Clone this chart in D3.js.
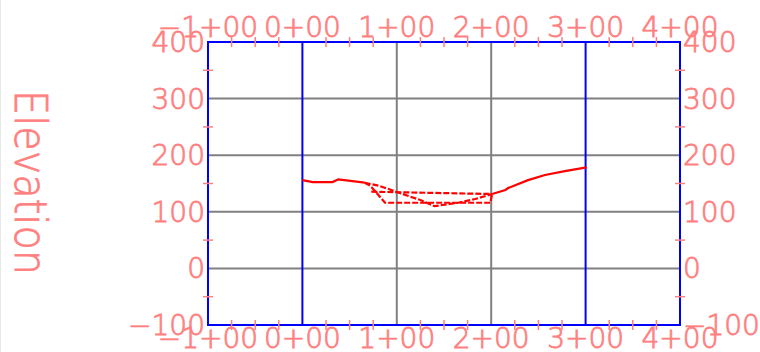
<!DOCTYPE html>
<html>
  <head>
    <meta charset="UTF-8" />
    <script src="https://cdnjs.cloudflare.com/ajax/libs/d3/7.8.5/d3.min.js"></script>
    <style>
      body { margin: 0; background: #fff; }
      text {
        fill: #ff8080;
        stroke: #ff8080;
        stroke-width: 0.8px;
        font-family: "DejaVu Sans", sans-serif;
        font-weight: 200;
      }
    </style>
  </head>
  <body>
    <svg id="chart" width="760" height="352"></svg>
    <script>
      // stations (ft) and elevations
      const stationTicks = [-100, 0, 100, 200, 300, 400];
      const elevTicks = [-100, 0, 100, 200, 300, 400];

      // existing ground, left part (solid)
      const groundLeftSta = [0, 11, 32, 38, 66];
      const groundLeftElev = [156, 152.6, 152.6, 157.4, 151.4];
      // existing ground inside the cut (dashed)
      const groundMidSta = [66, 82, 100, 125, 140, 165, 183, 201];
      const groundMidElev = [151.4, 145.6, 135, 120.8, 110, 116, 122.6, 131.4];
      // existing ground, right part (solid)
      const groundRightSta = [201, 215, 218, 239, 257, 278, 301];
      const groundRightElev = [131.4, 138.5, 142, 156, 165, 172, 178.6];
      // proposed section (dashed)
      const sectionSta = [66, 72, 87.5, 199, 201];
      const sectionElev = [151.4, 146, 116, 116, 131.4];
      const topSta = [73, 201];
      const topElev = [135.5, 131.4];

      const svg = d3.select("#chart");
      const x = d3.scaleLinear().domain([-100, 400]).range([208, 680]);
      const y = d3.scaleLinear().domain([-100, 400]).range([325, 42]);

      svg.append("line")
        .attr("x1", 0.5).attr("x2", 0.5).attr("y1", 0).attr("y2", 352)
        .attr("stroke", "#e8e8e8");

      // grid
      svg.selectAll(".hgrid")
        .data([0, 100, 200, 300])
        .enter().append("line")
        .attr("x1", x(-100)).attr("x2", x(400))
        .attr("y1", d => y(d)).attr("y2", d => y(d))
        .attr("stroke", "#808080").attr("stroke-width", 2);

      svg.selectAll(".vgrid")
        .data([0, 100, 200, 300])
        .enter().append("line")
        .attr("x1", d => x(d)).attr("x2", d => x(d))
        .attr("y1", y(400)).attr("y2", y(-100))
        .attr("stroke", d => (d == 0 || d == 300) ? "#0000ff" : "#808080")
        .attr("stroke-width", 2);

      svg.append("rect")
        .attr("x", x(-100)).attr("y", y(400))
        .attr("width", x(400) - x(-100)).attr("height", y(-100) - y(400))
        .attr("fill", "none").attr("stroke", "#0000ff").attr("stroke-width", 2);

      // minor ticks
      let staMinor = d3.range(-75, 400, 25).filter(d => d % 100 != 0);
      let elevMinor = d3.range(-50, 400, 100);
      [y(400), y(-100)].forEach(yy => {
        svg.selectAll(null).data(staMinor).enter().append("line")
          .attr("x1", d => x(d)).attr("x2", d => x(d))
          .attr("y1", yy - 5).attr("y2", yy + 5)
          .attr("stroke", "#ff8080").attr("stroke-width", 1.5);
      });
      [x(-100), x(400)].forEach(xx => {
        svg.selectAll(null).data(elevMinor).enter().append("line")
          .attr("x1", xx - 5).attr("x2", xx + 5)
          .attr("y1", d => y(d)).attr("y2", d => y(d))
          .attr("stroke", "#ff8080").attr("stroke-width", 1.5);
      });

      // profile lines
      const line = d3.line().x(d => x(d[0])).y(d => y(d[1]));
      const zip = (a, b) => a.map((v, i) => [v, b[i]]);
      const drawLine = (sta, elev, dashed) => {
        svg.append("path")
          .attr("d", line(zip(sta, elev)))
          .attr("fill", "none")
          .attr("stroke", "#ff0000")
          .attr("stroke-width", 2.2)
          .attr("stroke-dasharray", dashed ? "6,2" : null);
      };
      drawLine(groundLeftSta, groundLeftElev, false);
      drawLine(groundMidSta, groundMidElev, true);
      drawLine(groundRightSta, groundRightElev, false);
      drawLine(sectionSta, sectionElev, true);
      drawLine(topSta, topElev, true);

      // labels
      const fmtSta = s => (s < 0 ? "\u2212" : "") + Math.floor(Math.abs(s) / 100) + "+00";
      const fmtElev = e => (e < 0 ? "\u2212" : "") + Math.abs(e);

      [37, 348].forEach(base => {
        svg.selectAll(null).data(stationTicks).enter().append("text")
          .attr("x", d => x(d)).attr("y", base)
          .attr("text-anchor", "middle")
          .attr("font-size", 28)
          .text(fmtSta);
      });
      svg.selectAll(null).data(elevTicks).enter().append("text")
        .attr("x", 205).attr("y", d => y(d) + 10)
        .attr("text-anchor", "end").attr("font-size", 28)
        .text(fmtElev);
      svg.selectAll(null).data(elevTicks).enter().append("text")
        .attr("x", 683).attr("y", d => y(d) + 10)
        .attr("text-anchor", "start").attr("font-size", 28)
        .text(fmtElev);

      svg.append("text")
        .attr("transform", "translate(15,182.5) rotate(90)")
        .attr("text-anchor", "middle")
        .attr("font-size", 44)
        .attr("textLength", 185)
        .attr("lengthAdjust", "spacingAndGlyphs")
        .text("Elevation");
    </script>
  </body>
</html>
